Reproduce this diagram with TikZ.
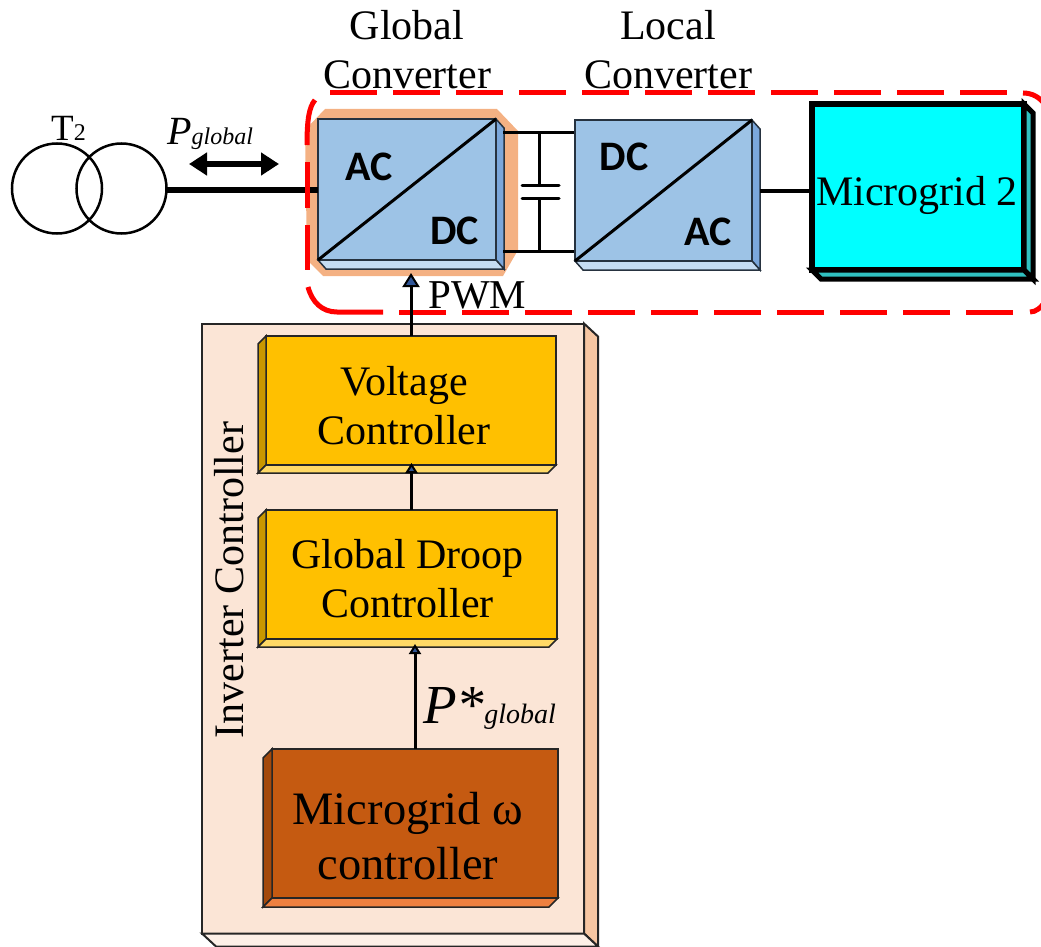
\documentclass[tikz,border=0pt]{standalone}
\usepackage{fontspec}
\setmainfont{Liberation Serif}
\newfontfamily\calibrifont{Carlito}
\usetikzlibrary{arrows.meta}
\definecolor{glow}{HTML}{F4B183}
\definecolor{convface}{HTML}{9DC3E6}
\definecolor{convside}{HTML}{7BA7DB}
\definecolor{convbot}{HTML}{C5DCF2}
\definecolor{convline}{HTML}{26323F}
\definecolor{panelface}{HTML}{FBE5D6}
\definecolor{panelside}{HTML}{F6C6A2}
\definecolor{panelbot}{HTML}{FDF0E7}
\definecolor{goldface}{HTML}{FFC000}
\definecolor{goldside}{HTML}{C99700}
\definecolor{goldbot}{HTML}{FFD966}
\definecolor{rustface}{HTML}{C55A11}
\definecolor{rustside}{HTML}{A3490C}
\definecolor{rustbot}{HTML}{EE8040}
\definecolor{cyanface}{HTML}{00FFFF}
\definecolor{tealside}{HTML}{30C0C0}
\definecolor{headblue}{HTML}{2F5597}
\newcommand{\rightbevel}[5]{%
  \filldraw[fill=#4] (#1.north east) -- ++(#2,#3) -- ([shift={(#2,#3)}]#1.south east) -- (#1.south east) -- cycle;
  \filldraw[fill=#5] (#1.south west) -- ++(#2,#3) -- ([shift={(#2,#3)}]#1.south east) -- (#1.south east) -- cycle;}
\newcommand{\leftbevel}[5]{%
  \filldraw[fill=#4] (#1.north west) -- ++(-#2,#3) -- ([shift={(-#2,#3)}]#1.south west) -- (#1.south west) -- cycle;
  \filldraw[fill=#5] (#1.south west) -- ++(-#2,#3) -- ([shift={(-#2,#3)}]#1.south east) -- (#1.south east) -- cycle;}
\tikzset{
  plainbox/.style={rectangle,inner sep=0pt,outer sep=0pt},
  conv/.style={plainbox,draw=convline,line width=2.5pt,fill=convface,minimum width=178pt,minimum height=141pt},
  ctrl/.style={plainbox,draw=black!85,line width=2pt,fill=goldface,minimum width=290pt,minimum height=129pt},
  label41/.style={inner sep=0pt,outer sep=0pt,align=center,font=\fontsize{42}{49}\selectfont},
  kind/.style={inner sep=0pt,outer sep=0pt,font=\calibrifont\bfseries\fontsize{42}{42}\selectfont},
  wire/.style={draw=black,line width=3pt},
  redsolid/.style={draw=red,line width=5pt},
  reddash/.style={draw=red,line width=5pt,dash pattern=on 47pt off 16pt},
  bigtip/.style={-{Triangle[width=17pt,length=14pt,line width=2pt,fill=headblue]}},
  smalltip/.style={-{Triangle[width=12pt,length=10pt,line width=2pt,fill=headblue]}}
}
\begin{document}
\begin{tikzpicture}[x=1pt,y=-1pt]
\clip (0,0) rectangle (1041,947);
% named free ends
\coordinate (pwmtip) at (407,273);
\coordinate (flowL) at (189,164);
\coordinate (flowR) at (279,164);
\coordinate (capTL) at (503,133);
\coordinate (capTR) at (575,133);
\coordinate (capBL) at (503,251);
\coordinate (capBR) at (575,251);
\coordinate (plateA) at (539,185);
\coordinate (plateB) at (539,198);
% transformer
\node[circle,draw=black,line width=2.5pt,minimum size=90pt,inner sep=0pt,outer sep=0pt] (tr1) at (57,188.5) {};
\node[circle,draw=black,line width=2.5pt,minimum size=90pt,inner sep=0pt,outer sep=0pt] (tr2) at (121.5,188.5) {};
\node[inner sep=0pt,anchor=base west] (t2label) at (51,140) {\fontsize{37}{37}\selectfont T\fontsize{24}{24}\selectfont 2};
\node[inner sep=0pt,anchor=base west] (pglobal) at (167,144) {\itshape\fontsize{40}{40}\selectfont P\fontsize{24}{24}\selectfont global};
% global converter
\fill[glow] (325,109) -- (497,109) -- (518,131) -- (518,250) -- (503,276) -- (323,276) -- (307,260) -- (305,130) -- cycle;
\node[conv] (gc) at (407,189.5) {};
\begin{scope}[draw=convline,line width=1.5pt]
\rightbevel{gc}{8}{9}{convside}{convbot}
\end{scope}
\draw[wire] (gc.south west) -- (gc.north east);
\node[kind] (gcac) at (369,167) {AC};
\node[kind] (gcdc) at (454.5,231) {DC};
% capacitor link
\draw[wire] (capTL) -- (capTR);
\draw[wire] (capBL) -- (capBR);
\draw[wire] (capTL -| plateA) -- (plateA);
\draw[wire] (capBL -| plateB) -- (plateB);
\draw[wire,line cap=round] ([xshift=-17pt]plateA) -- ([xshift=20pt]plateA);
\draw[wire,line cap=round] ([xshift=-17pt]plateB) -- ([xshift=20pt]plateB);
% local converter
\node[conv,minimum width=177pt] (lc) at (663.5,190.5) {};
\begin{scope}[draw=convline,line width=1.5pt]
\rightbevel{lc}{8}{9}{convside}{convbot}
\end{scope}
\draw[wire] (lc.south west) -- (lc.north east);
\node[kind] (lcdc) at (624,157) {DC};
\node[kind] (lcac) at (708.5,232) {AC};
% microgrid 2
\node[plainbox,draw=black,line width=6pt,fill=cyanface,minimum width=212pt,minimum height=166pt] (mg) at (918,187) {};
\begin{scope}[draw=black,line width=5pt]
\rightbevel{mg}{9}{9}{tealside}{tealside}
\end{scope}
\node[label41] (mglabel) at (917,195) {Microgrid 2};
% connectors of the power path
\draw[draw=black,line width=6pt] (tr2.east |- gc.west) -- (gc.west);
\draw[{Triangle[width=22pt,length=18pt]}-{Triangle[width=22pt,length=18pt]},draw=black,line width=6pt] (flowL) -- (flowR);
\draw[draw=black,line width=4pt] ([xshift=8pt]lc.east) -- (mg.west |- lc.east);
% titles
\node[label41] (gctitle) at (407,50) {Global\\Converter};
\node[label41] (lctitle) at (668,50) {Local\\Converter};
% red enclosure
\draw[reddash] (330,93) -- (1023,93);
\draw[redsolid] (1023,93) .. controls (1032,93) and (1040,97) .. (1046,106);
\draw[reddash] (1013,312) -- (399,312);
\draw[redsolid] (1030,312) .. controls (1036,312) and (1041,308) .. (1046,300);
\draw[redsolid] (383,312) -- (337,312) .. controls (322,312) and (312,302) .. (308,287);
\draw[redsolid] (307,225) -- (307,270);
\draw[redsolid] (307,162) -- (307,208);
\draw[redsolid] (315,100) .. controls (309,107) and (307,120) .. (307,145);
% inverter controller panel
\node[plainbox,draw=black!85,line width=2pt,fill=panelface,minimum width=382pt,minimum height=610pt] (panel) at (393,628.5) {};
\begin{scope}[draw=black!85,line width=2pt]
\rightbevel{panel}{14}{13}{panelside}{panelbot}
\end{scope}
\node[label41,rotate=90] (panellabel) at (229,580) {Inverter Controller};
% controllers
\node[ctrl] (vc) at (411,400.5) {};
\begin{scope}[draw=black!85,line width=1.5pt]
\leftbevel{vc}{8}{8}{goldside}{goldbot}
\end{scope}
\node[label41] (vclabel) at (404,406) {Voltage\\Controller};
\node[ctrl,minimum width=291pt] (gd) at (411.5,574.5) {};
\begin{scope}[draw=black!85,line width=1.5pt]
\leftbevel{gd}{8}{8}{goldside}{goldbot}
\end{scope}
\node[label41] (gdlabel) at (407.5,579) {Global Droop\\Controller};
\node[plainbox,draw=black!85,line width=2pt,fill=rustface,minimum width=286pt,minimum height=149pt] (mw) at (415,823.5) {};
\begin{scope}[draw=black!85,line width=1.5pt]
\leftbevel{mw}{9}{9}{rustside}{rustbot}
\end{scope}
\node[inner sep=0pt,outer sep=0pt,align=center,font=\fontsize{46.5}{55}\selectfont] (mwlabel) at (408,836) {Microgrid ω\\controller};
% control connectors
\draw[bigtip,draw=black,line width=3pt] (vc.north) -- (vc.north |- pwmtip);
\draw[smalltip,draw=black,line width=3pt] (gd.north) -- ([yshift=2pt]gd.north |- vc.south);
\draw[smalltip,draw=black,line width=3pt] (mw.north) -- (mw.north |- 0,644);
% labels
\node[inner sep=0pt,anchor=base west] (pwmlabel) at (428,308) {\fontsize{41}{41}\selectfont PWM};
\node[inner sep=0pt,anchor=base west] (pstar) at (423,723) {\itshape\fontsize{55}{55}\selectfont P*\fontsize{28}{28}\selectfont global};
\end{tikzpicture}
\end{document}
